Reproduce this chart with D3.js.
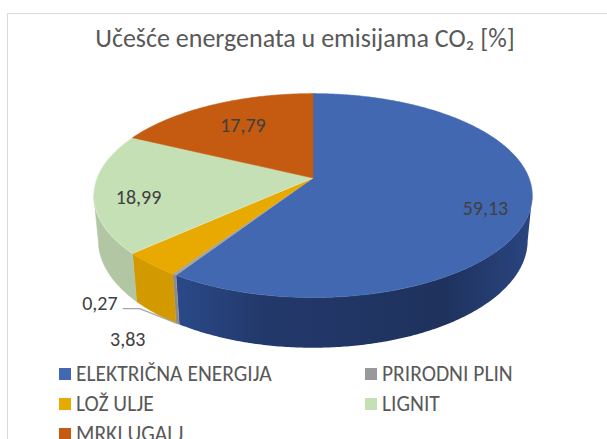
<!DOCTYPE html>
<html>
<head>
<meta charset="utf-8">
<script src="https://cdnjs.cloudflare.com/ajax/libs/d3/7.8.5/d3.min.js"></script>
<style>
  body { margin: 0; background: #fff; }
  text { font-family: Carlito, Calibri, "Open Sans", sans-serif; }
</style>
</head>
<body>
<script>
// podaci
var categories = ["ELEKTRIČNA ENERGIJA", "PRIRODNI PLIN", "LOŽ ULJE", "LIGNIT", "MRKI UGALJ"];
var values = [59.13, 0.27, 3.83, 18.99, 17.79];
var topColors = ["#4268b2", "#a5a5a5", "#e8a900", "#c5e0b4", "#c55a11"];
var sideColors = ["#22396b", "#8c8c8c", "#d39a00", "#b2c6a4", "#9c470d"];
var legendColors = ["#4268b2", "#999999", "#e6ab00", "#c5e0b4", "#c55a11"];

var W = 607, H = 439;
var svg = d3.select("body").append("svg")
  .attr("width", W)
  .attr("height", H);

// okvir
svg.append("rect")
  .attr("x", 7.5).attr("y", 13.5)
  .attr("width", 640).attr("height", 480)
  .attr("fill", "#fff")
  .attr("stroke", "#d9d9d9");

// naslov
svg.append("text")
  .attr("x", 305).attr("y", 47)
  .attr("text-anchor", "middle")
  .attr("font-size", 26)
  .attr("fill", "#595959")
  .text("Učešće energenata u emisijama CO₂ [%]");

// 3D projekcija (perspektiva)
var cx = 313, cy = 178, s = 216, L = 5.16;
var sinP = 0.458, cosP = 0.889, depth = 0.235;

function proj(theta, r, yy) {
  var X = r * Math.sin(theta), D = r * Math.cos(theta);
  var yc = D * sinP + yy * cosP;
  var zc = L + D * cosP - yy * sinP;
  return [cx + s * X * L / zc, cy - s * yc * L / zc];
}

var pie = d3.pie().sort(null).value(function(d) { return d; });
var arcs = pie(values);

// vidljivi dio bočne strane
var visFrom = Math.acos(-cosP / L), visTo = 2 * Math.PI - visFrom;

function arcPoints(a0, a1, r, yy) {
  var n = Math.max(2, Math.ceil(Math.abs(a1 - a0) / 0.01));
  return d3.range(n + 1).map(function(i) { return proj(a0 + (a1 - a0) * i / n, r, yy); });
}

var line = d3.line();

// gradijent za plavu stranu
var defs = svg.append("defs");
var g = defs.append("linearGradient").attr("id", "blueSide")
  .attr("gradientUnits", "userSpaceOnUse")
  .attr("x1", 170).attr("y1", 0).attr("x2", 535).attr("y2", 0);
g.append("stop").attr("offset", "0%").attr("stop-color", "#2b4a8c");
g.append("stop").attr("offset", "25%").attr("stop-color", "#23396b");
g.append("stop").attr("offset", "75%").attr("stop-color", "#1f325e");
g.append("stop").attr("offset", "100%").attr("stop-color", "#2a4681");

// bočne strane
arcs.forEach(function(d, i) {
  var a0 = Math.max(d.startAngle, visFrom), a1 = Math.min(d.endAngle, visTo);
  if (a1 <= a0) return;
  var pts = arcPoints(a0, a1, 1, 0).concat(arcPoints(a1, a0, 1, -depth));
  svg.append("path")
    .attr("d", line(pts) + "Z")
    .attr("fill", i === 0 ? "url(#blueSide)" : sideColors[i])
    .attr("stroke", i === 0 ? "none" : sideColors[i])
    .attr("stroke-width", 0.5);
});

// gornje plohe
arcs.forEach(function(d, i) {
  var pts = [proj(0, 0, 0)].concat(arcPoints(d.startAngle, d.endAngle, 1, 0));
  svg.append("path")
    .attr("d", line(pts) + "Z")
    .attr("fill", topColors[i])
    .attr("stroke", i === 3 ? "#e6f0df" : topColors[i])
    .attr("stroke-width", 0.6);
});

// oznake
var fmt = function(v) { return d3.format(".2f")(v).replace(".", ","); };
var inside = [0, 3, 4];
inside.forEach(function(i) {
  var d = arcs[i], mid = (d.startAngle + d.endAngle) / 2;
  var p = proj(mid, 0.8, 0);
  svg.append("text")
    .attr("x", p[0] + (i === 4 ? 12 : 0)).attr("y", p[1] + 14)
    .attr("text-anchor", "middle")
    .attr("font-size", 20)
    .attr("fill", "#404040")
    .text(fmt(values[i]));
});

// vanjske oznake s vodilicom
var gm = (arcs[1].startAngle + arcs[1].endAngle) / 2;
var gp = proj(gm, 1, -depth);
svg.append("path")
  .attr("d", line([[gp[0] - 55, gp[1] - 15], [gp[0] - 38, gp[1] - 15], gp]))
  .attr("fill", "none")
  .attr("stroke", "#a6a6a6")
  .attr("stroke-width", 1.3);
svg.append("text")
  .attr("x", gp[0] - 60).attr("y", gp[1] - 14)
  .attr("text-anchor", "end")
  .attr("font-size", 20)
  .attr("fill", "#404040")
  .text(fmt(values[1]));

var om = (arcs[2].startAngle + arcs[2].endAngle) / 2;
var op = proj(om, 1, -depth);
svg.append("text")
  .attr("x", op[0] - 27).attr("y", op[1] + 33)
  .attr("text-anchor", "middle")
  .attr("font-size", 20)
  .attr("fill", "#404040")
  .text(fmt(values[2]));

// legenda
var legX = [59, 365], legY = [368, 398, 428];
categories.forEach(function(c, i) {
  var col = i % 2, row = Math.floor(i / 2);
  svg.append("rect")
    .attr("x", legX[col]).attr("y", legY[row])
    .attr("width", 12).attr("height", 12)
    .attr("fill", legendColors[i]);
  svg.append("text")
    .attr("x", legX[col] + 17).attr("y", legY[row] + 13)
    .attr("font-size", 21.5)
    .attr("fill", "#595959")
    .text(c);
});
</script>
</body>
</html>
